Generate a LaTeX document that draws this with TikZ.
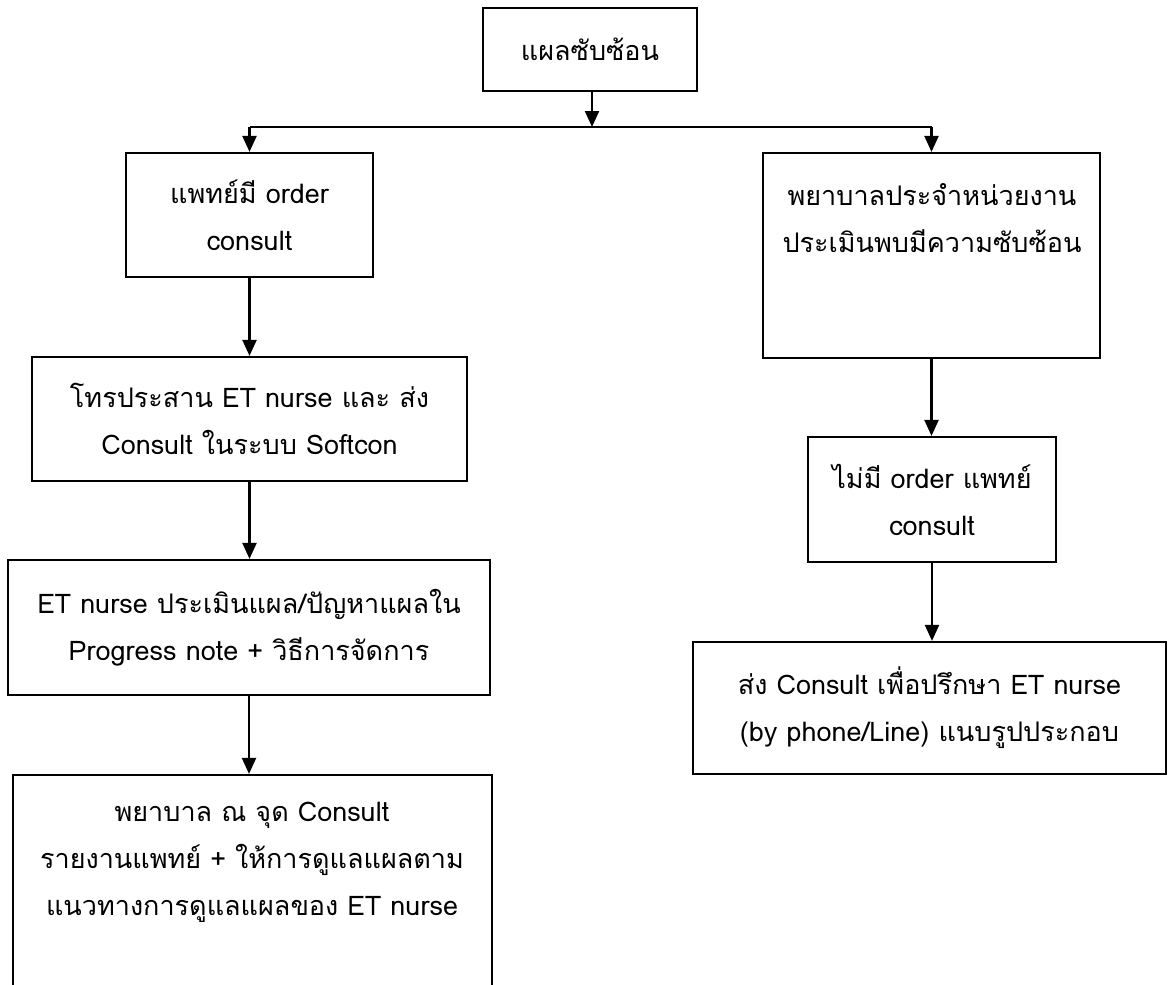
\documentclass[tikz,border=0pt]{standalone}
\usepackage{fontspec}
\newfontfamily\thaifont[Script=Thai]{Loma}
\usetikzlibrary{arrows.meta}
\begin{document}
\begin{tikzpicture}[x=1pt,y=-1pt,
  box/.style={draw, line width=2.2pt, inner sep=0pt, align=center,
    font=\thaifont\fontsize{27}{47}\selectfont},
  txt/.style={inner sep=0pt, align=center,
    font=\thaifont\fontsize{27}{47}\selectfont},
  conn/.style={line width=2.2pt},
  arr/.style={line width=2.2pt, -{Triangle[width=14pt,length=16pt]}}]
\useasboundingbox (0,0) rectangle (1168,985);
\fill[white] (0,0) rectangle (1168,985);
% boxes
\node[box, minimum width=214pt, minimum height=83pt] (top) at (590,49.5) {แผลซับซ้อน};
\node[box, minimum width=247pt, minimum height=124pt] (L1) at (249.5,215) {แพทย์มี order\\consult};
\node[box, minimum width=435pt, minimum height=124pt] (L2) at (249.5,419) {โทรประสาน ET nurse และ ส่ง\\Consult ในระบบ Softcon};
\node[box, minimum width=482pt, minimum height=135pt] (L3) at (249,627.5) {ET nurse ประเมินแผล/ปัญหาแผลใน\\Progress note + วิธีการจัดการ};
\node[box, minimum width=479pt, minimum height=225pt] (L4) at (252.5,887.5) {};
\node[txt] (L4t) at (252,862) {พยาบาล ณ จุด Consult\\รายงานแพทย์ + ให้การดูแลแผลตาม\\แนวทางการดูแลแผลของ ET nurse};
\node[box, minimum width=337pt, minimum height=205pt] (R1) at (931.5,255.5) {};
\node[txt] (R1t) at (932,218.5) {พยาบาลประจำหน่วยงาน\\ประเมินพบมีความซับซ้อน};
\node[box, minimum width=248pt, minimum height=125pt] (R2) at (932,499.5) {ไม่มี order แพทย์\\consult};
\node[box, minimum width=473pt, minimum height=132pt] (R3) at (929.5,708) {ส่ง Consult เพื่อปรึกษา ET nurse\\(by phone/Line) แนบรูปประกอบ};
% connectors
\coordinate (split) at (592,127);
\draw[arr] (split |- top.south) -- (split);
\draw[conn] (L1.north |- split) -- (R1.north |- split);
\draw[arr] (L1.north |- split) -- (L1.north);
\draw[arr] (R1.north |- split) -- (R1.north);
\draw[arr] (L1.south) -- (L1.south |- L2.north);
\draw[arr] (L2.south) -- (L2.south |- L3.north);
\draw[arr] (L3.south) -- (L3.south |- L4.north);
\draw[arr] (R1.south) -- (R1.south |- R2.north);
\draw[arr] (R2.south) -- (R2.south |- R3.north);
\end{tikzpicture}
\end{document}
